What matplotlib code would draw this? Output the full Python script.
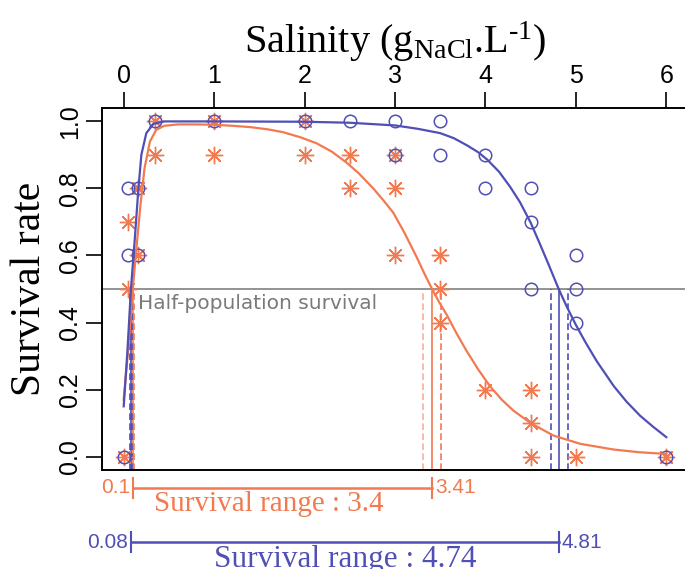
import matplotlib
matplotlib.use('Agg')
import matplotlib.pyplot as plt

plt.rcParams['font.family'] = ['Liberation Sans', 'DejaVu Sans']
plt.rcParams['mathtext.fontset'] = 'custom'
plt.rcParams['mathtext.rm'] = 'Liberation Serif'
plt.rcParams['mathtext.it'] = 'Liberation Serif:italic'

orange = '#F27A50'
blue = '#4F4FB5'

# observed survival per salinity
sal_blue = [0, 0.05, 0.05, 0.16, 0.16, 0.35, 1, 2, 2.5, 3, 3, 3.5, 3.5, 4, 4, 4.5, 4.5, 4.5, 5, 5, 5, 6]
surv_blue = [0, 0.8, 0.6, 0.8, 0.6, 1.0, 1.0, 1.0, 1.0, 1.0, 0.9, 1.0, 0.9, 0.9, 0.8, 0.8, 0.7, 0.5, 0.6, 0.5, 0.4, 0.0]
sal_orange = [0, 0.05, 0.05, 0.16, 0.16, 0.35, 0.35, 1, 1, 2, 2, 2.5, 2.5, 3, 3, 3, 3.5, 3.5, 3.5, 4, 4.5, 4.5, 4.5, 5, 6]
surv_orange = [0, 0.7, 0.5, 0.8, 0.6, 1.0, 0.9, 1.0, 0.9, 1.0, 0.9, 0.9, 0.8, 0.9, 0.8, 0.6, 0.6, 0.5, 0.4, 0.2, 0.2, 0.1, 0.0, 0.0, 0.0]

# fitted curves
fit_x_blue = [0.0, 0.04, 0.08, 0.12, 0.16, 0.195, 0.25, 0.33, 0.45, 1.0, 1.5, 2.0, 2.5, 3.0, 3.25, 3.5, 3.65,
              3.8, 3.92, 4.02, 4.15, 4.27, 4.38, 4.5, 4.6, 4.7, 4.81, 4.9, 5.0, 5.1, 5.23, 5.42, 5.56,
              5.71, 5.85, 6.0]
fit_y_blue = [0.15, 0.31, 0.5, 0.64, 0.79, 0.9, 0.965, 0.993, 1.0, 1.0, 0.9995, 0.999, 0.996, 0.988, 0.978, 0.965, 0.95,
              0.928, 0.908, 0.886, 0.85, 0.806, 0.76, 0.698, 0.636, 0.572, 0.5, 0.447, 0.393, 0.344, 0.285, 0.21, 0.164,
              0.122, 0.09, 0.058]
fit_x_orange = [0.0, 0.05, 0.1, 0.14, 0.185, 0.23, 0.29, 0.36, 0.45, 0.6, 0.8, 1.0, 1.2, 1.4, 1.6, 1.76, 1.95,
                2.13, 2.3, 2.46, 2.6, 2.76, 2.87, 2.98, 3.1, 3.24, 3.33, 3.41, 3.49, 3.57, 3.68, 3.79, 3.92,
                4.05, 4.18, 4.31, 4.5, 4.75, 5.05, 5.42, 5.7, 6.0]
fit_y_orange = [0.17, 0.32, 0.5, 0.62, 0.75, 0.86, 0.94, 0.975, 0.987, 0.991, 0.991, 0.99, 0.987, 0.983, 0.976, 0.968, 0.953,
                0.935, 0.91, 0.878, 0.845, 0.8, 0.765, 0.728, 0.67, 0.595, 0.543, 0.5, 0.46, 0.424, 0.368, 0.316, 0.26,
                0.21, 0.17, 0.137, 0.1, 0.063, 0.038, 0.021, 0.013, 0.008]

# half-survival salinities and their confidence bounds
lc50_orange = [0.1, 3.41]
ci_orange = [0.09, 0.11, 3.315, 3.505]
lc50_blue = [0.08, 4.81]
ci_blue = [0.07, 0.09, 4.72, 4.91]
range_orange = 3.4
range_blue = 4.74

xticks = [0, 1, 2, 3, 4, 5, 6]
yticks = [0.0, 0.2, 0.4, 0.6, 0.8, 1.0]
ytick_labels = ['0.0', '0.2', '0.4', '0.6', '0.8', '1.0']

fig = plt.figure(figsize=(6.85, 5.69), dpi=100)
ax = fig.add_axes([102/685, 99/569, 586/685, 362/569])
ax.set_xlim(-0.24, 6.24)
ax.set_ylim(-0.04, 1.04)

ax.axhline(0.5, color='#808080', lw=1.2, zorder=1)
ax.text(0.155, 0.485, 'Half-population survival', color='#7a7a7a', fontsize=14.5,
        family='DejaVu Sans', ha='left', va='top')

for x in lc50_orange:
    ax.plot([x, x], [-0.04, 0.5], color=orange, lw=1.2)
for i, x in enumerate(ci_orange):
    ax.plot([x, x], [-0.04, 0.5], color=orange, lw=1.2, ls=(0, (4, 2)), alpha=0.6 if i % 2 == 0 else 1)
for x in lc50_blue:
    ax.plot([x, x], [-0.04, 0.5], color=blue, lw=1.2)
for x in ci_blue:
    ax.plot([x, x], [-0.04, 0.5], color=blue, lw=1.2, ls=(0, (4, 2)))

ax.plot(sal_orange, surv_orange, ls='none', marker=(8, 2, 0), ms=12.5, mew=1.0, color=orange)
ax.plot(sal_blue, surv_blue, ls='none', marker='o', ms=9, mfc='none', mec=blue, mew=1.1)
ax.plot(fit_x_orange, fit_y_orange, color=orange, lw=1.6)
ax.plot(fit_x_blue, fit_y_blue, color=blue, lw=1.6)

# survival range bars under the axes
trans = ax.get_xaxis_transform()
rows = [(lc50_orange[0], lc50_orange[1], -0.0497, orange, range_orange, -0.113, 1.6, 21),
        (lc50_blue[0], lc50_blue[1], -0.199, blue, range_blue, -0.268, 2.445, 22.5)]
for lo, hi, yb, col, rng, ytxt, xtxt, fs in rows:
    ax.plot([lo, hi], [yb, yb], color=col, lw=1.8, transform=trans, clip_on=False)
    for x in (lo, hi):
        ax.plot([x, x], [yb - 0.028, yb + 0.028], color=col, lw=1.5, transform=trans, clip_on=False)
    ax.annotate(f'{lo:g}', xy=(lo, yb), xycoords=trans, xytext=(-2, 0), textcoords='offset points',
                ha='right', va='center', color=col, fontsize=15, annotation_clip=False)
    ax.annotate(f'{hi:g}', xy=(hi, yb), xycoords=trans, xytext=(2, 0), textcoords='offset points',
                ha='left', va='center', color=col, fontsize=15, annotation_clip=False)
    ax.text(xtxt, ytxt, f'Survival range : {rng:g}', transform=trans, ha='center', va='baseline',
            color=col, fontsize=fs, family='Liberation Serif', clip_on=False)

ax.xaxis.tick_top()
ax.set_xticks(xticks)
ax.set_xticklabels([str(t) for t in xticks])
ax.set_yticks(yticks)
ax.set_yticklabels(ytick_labels, rotation=90, va='center')
ax.tick_params(length=11.5, width=1.2, pad=3, labelsize=18, direction='out')
for s in ax.spines.values():
    s.set_linewidth(1.4)

fig.text((102 + 293)/685, 1 - 53/569, r'Salinity (g$_{\mathrm{NaCl}}$.L$^{\text{-1}}$)',
         ha='center', va='baseline', fontsize=29, family='Liberation Serif')
fig.text(30/685, 1 - 289/569, 'Survival rate', rotation=90, ha='center', va='center',
         fontsize=30, family='Liberation Serif')

fig.savefig('out.png', dpi=100)
